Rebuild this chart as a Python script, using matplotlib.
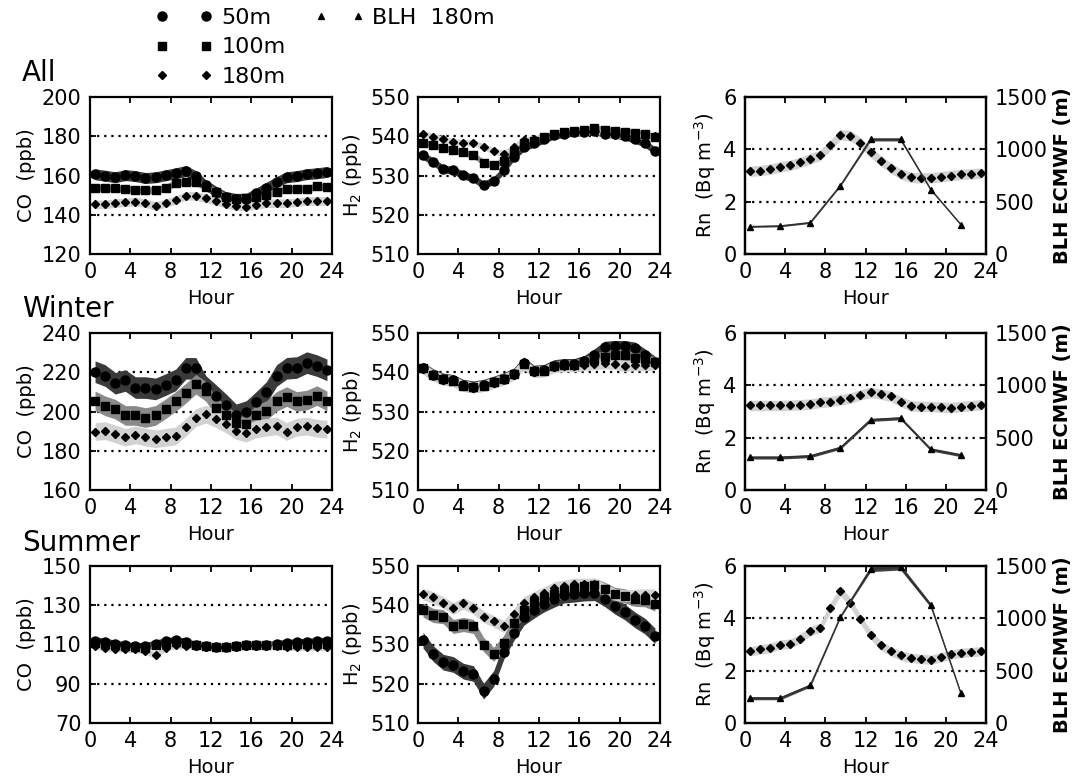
import numpy as np
import matplotlib.pyplot as plt
from matplotlib.lines import Line2D

plt.rcParams['font.family'] = ['DejaVu Sans']

hours = [0.5, 1.5, 2.5, 3.5, 4.5, 5.5, 6.5, 7.5, 8.5, 9.5, 10.5, 11.5,
         12.5, 13.5, 14.5, 15.5, 16.5, 17.5, 18.5, 19.5, 20.5, 21.5, 22.5, 23.5]
blh_hours = [0.5, 3.5, 6.5, 9.5, 12.5, 15.5, 18.5, 21.5]

# ---- CO (ppb) ----
co_all_50 = [160.6, 159.9, 159.1, 160.2, 159.7, 158.7, 159.1, 160.1, 161.1, 162.3, 159.7, 155.0,
             151.8, 148.9, 148.1, 148.2, 150.9, 153.8, 156.7, 159.1, 159.7, 160.7, 161.1, 161.8]
co_all_100 = [153.8, 153.8, 153.5, 153.1, 152.8, 152.5, 152.5, 153.8, 156.3, 156.9, 156.5, 154.3,
              151.8, 149.2, 147.9, 148.4, 148.9, 150.1, 151.8, 153.1, 153.1, 153.3, 154.5, 154.0]
co_all_180 = [145.3, 145.3, 145.9, 146.4, 146.7, 145.9, 144.5, 145.9, 147.5, 149.7, 149.6, 148.4,
              147.0, 145.5, 144.5, 144.2, 145.0, 145.9, 145.9, 145.9, 146.4, 147.0, 147.0, 147.0]
co_win_50 = [220.3, 218.3, 214.4, 215.8, 212.2, 212.2, 211.5, 213.7, 216.1, 222.0, 222.0, 212.7,
             208.1, 203.4, 198.3, 200.0, 204.7, 209.7, 218.3, 222.0, 222.4, 224.9, 223.4, 221.2]
co_win_100 = [205.4, 202.9, 201.2, 198.0, 198.0, 196.9, 198.0, 201.4, 205.1, 209.3, 213.9, 210.2,
              202.0, 198.3, 194.1, 193.7, 198.3, 200.5, 205.1, 207.6, 205.1, 205.8, 208.1, 205.4]
co_win_180 = [189.8, 190.2, 188.6, 186.8, 188.1, 187.0, 186.1, 186.8, 187.6, 191.9, 196.9, 198.6,
              196.3, 193.6, 190.3, 189.0, 191.2, 191.9, 192.7, 189.8, 192.0, 192.5, 191.5, 191.0]
co_sum_50 = [112.0, 111.4, 110.5, 109.5, 109.2, 109.2, 110.5, 111.7, 112.2, 111.4, 109.7, 109.2,
             108.6, 108.8, 109.2, 109.7, 109.5, 109.7, 110.3, 110.8, 111.2, 111.4, 111.7, 112.0]
co_sum_100 = [111.0, 110.5, 109.8, 109.0, 108.5, 108.3, 109.8, 110.8, 111.5, 111.0, 109.5, 109.0,
              108.6, 108.8, 109.2, 109.5, 109.5, 109.6, 109.8, 110.0, 110.2, 110.2, 110.3, 110.5]
co_sum_180 = [109.2, 108.1, 107.8, 107.5, 107.5, 106.6, 104.4, 108.3, 109.5, 109.3, 109.0, 108.8,
              108.6, 108.5, 108.7, 109.0, 109.2, 109.3, 109.3, 108.8, 108.5, 108.5, 108.5, 108.6]

# ---- H2 (ppb) ----
h2_all_50 = [535.1, 533.5, 531.7, 531.3, 530.1, 529.3, 527.6, 528.7, 531.4, 534.8, 537.2, 538.2,
             539.2, 540.3, 540.7, 541.0, 541.1, 541.4, 540.7, 540.5, 540.0, 539.2, 538.2, 536.3]
h2_all_100 = [538.4, 537.7, 537.1, 536.5, 535.9, 535.2, 533.3, 532.7, 533.7, 536.1, 538.2, 538.8,
              539.7, 540.7, 541.1, 541.3, 541.5, 542.0, 541.7, 541.4, 541.1, 540.9, 540.5, 539.9]
h2_all_180 = [540.7, 539.9, 539.3, 538.6, 538.4, 538.4, 537.3, 536.2, 535.6, 537.3, 539.0, 539.4,
              539.9, 540.5, 540.9, 541.0, 541.1, 541.4, 540.9, 540.3, 540.3, 540.0, 539.9, 540.0]
h2_win_50 = [541.1, 539.4, 538.3, 537.9, 536.7, 536.3, 536.7, 537.5, 538.4, 539.6, 542.4, 540.3,
             540.5, 541.7, 542.0, 542.0, 542.8, 544.5, 546.4, 546.6, 546.6, 546.2, 544.5, 542.6]
h2_win_100 = [541.0, 539.3, 538.2, 537.8, 536.6, 536.2, 536.6, 537.4, 538.3, 539.5, 542.2, 540.2,
              540.4, 541.5, 541.8, 541.8, 542.5, 543.5, 544.0, 544.5, 544.5, 543.7, 543.3, 542.5]
h2_win_180 = [540.9, 539.2, 538.1, 537.7, 536.5, 536.1, 536.5, 537.3, 538.2, 539.4, 542.0, 540.0,
              540.2, 541.3, 541.5, 541.5, 541.8, 542.0, 542.3, 542.1, 541.6, 541.8, 541.8, 541.9]
h2_sum_50 = [531.1, 527.7, 525.5, 524.9, 523.2, 522.6, 518.1, 521.3, 528.2, 533.0, 536.9, 538.7,
             540.3, 541.5, 542.6, 542.8, 543.1, 543.2, 541.7, 539.8, 538.3, 536.3, 534.7, 532.2]
h2_sum_100 = [538.8, 537.4, 537.1, 534.6, 535.1, 534.6, 530.0, 527.5, 530.5, 535.6, 538.7, 540.9,
              542.0, 542.8, 543.7, 544.3, 544.8, 545.1, 544.1, 542.8, 542.4, 541.5, 541.4, 540.3]
h2_sum_180 = [542.8, 542.0, 540.7, 539.2, 540.5, 539.2, 537.1, 535.9, 534.6, 537.7, 540.7, 542.0,
              543.2, 544.5, 544.9, 545.4, 545.4, 545.4, 544.1, 542.8, 542.4, 542.6, 542.7, 542.6]

# ---- Rn (Bq m-3) and BLH (m) ----
rn_all = [3.16, 3.19, 3.24, 3.33, 3.39, 3.50, 3.64, 3.77, 4.15, 4.56, 4.52, 4.25,
          3.89, 3.57, 3.29, 3.06, 2.93, 2.91, 2.91, 2.96, 3.00, 3.04, 3.06, 3.09]
rn_win = [3.23, 3.23, 3.23, 3.23, 3.24, 3.26, 3.28, 3.35, 3.38, 3.45, 3.51, 3.64,
          3.73, 3.67, 3.58, 3.38, 3.22, 3.19, 3.19, 3.17, 3.15, 3.19, 3.22, 3.26]
rn_sum = [2.74, 2.81, 2.87, 3.00, 3.03, 3.22, 3.51, 3.64, 4.41, 5.03, 4.60, 3.96,
          3.38, 2.97, 2.74, 2.58, 2.49, 2.45, 2.42, 2.51, 2.62, 2.68, 2.71, 2.74]
blh_all = [262, 268, 300, 654, 1095, 1095, 616, 281]
blh_win = [311, 311, 324, 404, 670, 686, 388, 333]
blh_sum = [237, 237, 359, 1013, 1471, 1487, 1125, 285]
blh_all_err = [8, 8, 8, 8, 15, 15, 8, 8]
blh_win_err = [15, 15, 15, 15, 15, 15, 15, 15]
blh_sum_err = [15, 15, 15, 8, 25, 25, 20, 8]

# band half-widths (50m, 100m, 180m)
co_all_err = [2.8, 1.8, 2.2]
co_win_err = [5.5, 5.0, 4.5]
co_sum_err = [1.8, 1.6, 1.6]
h2_all_err = [1.0, 0.8, 0.8]
h2_win_err = [1.5, 1.4, 1.4]
h2_sum_err = [2.0, 1.8, 1.5]
rn_err = [0.2, 0.2, 0.18]

band_colors = ['#3a3a3a', '#8a8a8a', '#d2d2d2']
markers = ['o', 's', 'D']
msizes = [6.5, 6, 4.5]

W, H = 1078, 784
fig = plt.figure(figsize=(W / 100, H / 100), dpi=100)

col_left = [90, 418, 745]
col_width = [242, 242, 241]
row_top = [97, 333, 566]
ax_h = 157


def make_ax(r, c):
    return fig.add_axes([col_left[c] / W, 1 - (row_top[r] + ax_h) / H,
                         col_width[c] / W, ax_h / H])


def style_ax(ax, yticks, grid):
    ax.set_xlim(0, 24)
    ax.set_xticks([0, 4, 8, 12, 16, 20, 24])
    ax.set_ylim(yticks[0], yticks[-1])
    ax.set_yticks(yticks)
    for g in grid:
        ax.axhline(g, color='k', ls=(0, (1, 2.2)), lw=1.6, zorder=1)
    ax.tick_params(direction='in', length=4, width=1.3, top=True, labelsize=15, pad=6)
    for s in ax.spines.values():
        s.set_linewidth(1.6)
    ax.set_xlabel('Hour', fontsize=14, labelpad=5)


def gas_panel(ax, series, errs, yticks, grid, ylabel):
    for i, (vals, e) in enumerate(zip(series, errs)):
        v = np.array(vals)
        ax.fill_between(hours, v - e, v + e, color=band_colors[i], lw=0, zorder=2 + i)
    for i, vals in enumerate(series):
        ax.plot(hours, vals, ls='none', marker=markers[i], ms=msizes[i], color='k', zorder=6)
    style_ax(ax, yticks, grid)
    ax.set_ylabel(ylabel, fontsize=14, labelpad=4)


def rn_panel(ax, rn, e, blh, blh_e):
    v = np.array(rn)
    ax.fill_between(hours, v - e, v + e, color='#d2d2d2', lw=0, zorder=2)
    ax.plot(hours, rn, ls='none', marker='D', ms=4.5, color='k', zorder=6)
    style_ax(ax, [0, 2, 4, 6], [2, 4])
    ax.set_ylabel('Rn  (Bq m$^{-3}$)', fontsize=14, labelpad=4)
    ax2 = ax.twinx()
    b = np.array(blh)
    be = np.array(blh_e)
    ax2.fill_between(blh_hours, b - be, b + be, color='#404040', lw=0, zorder=2)
    ax2.plot(blh_hours, blh, color='#303030', lw=1.0, marker='^', ms=4.5, mfc='k', mec='k', zorder=5)
    ax2.set_ylim(0, 1500)
    ax2.set_yticks([0, 500, 1000, 1500])
    ax2.tick_params(direction='in', length=4, width=1.3, labelsize=15, pad=6)
    ax2.set_ylabel('BLH ECMWF (m)', fontsize=14, fontweight='bold', labelpad=4)
    for s in ax2.spines.values():
        s.set_linewidth(1.6)


# Row 1: All
gas_panel(make_ax(0, 0), [co_all_50, co_all_100, co_all_180], co_all_err,
          [120, 140, 160, 180, 200], [140, 160, 180], 'CO  (ppb)')
gas_panel(make_ax(0, 1), [h2_all_50, h2_all_100, h2_all_180], h2_all_err,
          [510, 520, 530, 540, 550], [520, 530, 540], 'H$_2$ (ppb)')
rn_panel(make_ax(0, 2), rn_all, rn_err[0], blh_all, blh_all_err)

# Row 2: Winter
gas_panel(make_ax(1, 0), [co_win_50, co_win_100, co_win_180], co_win_err,
          [160, 180, 200, 220, 240], [180, 200, 220], 'CO  (ppb)')
gas_panel(make_ax(1, 1), [h2_win_50, h2_win_100, h2_win_180], h2_win_err,
          [510, 520, 530, 540, 550], [520, 530, 540], 'H$_2$ (ppb)')
rn_panel(make_ax(1, 2), rn_win, rn_err[1], blh_win, blh_win_err)

# Row 3: Summer
gas_panel(make_ax(2, 0), [co_sum_50, co_sum_100, co_sum_180], co_sum_err,
          [70, 90, 110, 130, 150], [90, 110, 130], 'CO  (ppb)')
gas_panel(make_ax(2, 1), [h2_sum_50, h2_sum_100, h2_sum_180], h2_sum_err,
          [510, 520, 530, 540, 550], [520, 530, 540], 'H$_2$ (ppb)')
rn_panel(make_ax(2, 2), rn_sum, rn_err[2], blh_sum, blh_sum_err)

# row titles
fig.text(22 / W, 1 - 73 / H, 'All', fontsize=20, va='center', ha='left')
fig.text(22 / W, 1 - 309 / H, 'Winter', fontsize=20, va='center', ha='left')
fig.text(22 / W, 1 - 543 / H, 'Summer', fontsize=20, va='center', ha='left')

# legend
h = [Line2D([], [], ls='none', marker=m, ms=s, color='k') for m, s in zip(markers, msizes)]
fig.legend(h, ['50m', '100m', '180m'], loc='upper left', bbox_to_anchor=(155 / W, 1 - 8 / H),
           numpoints=2, frameon=False, fontsize=16, handlelength=2.6, handletextpad=0.4,
           labelspacing=0.42, borderpad=0, borderaxespad=0)
hb = [Line2D([], [], ls='none', marker='^', ms=4.5, color='k')]
fig.legend(hb, ['BLH  180m'], loc='upper left', bbox_to_anchor=(314 / W, 1 - 8 / H),
           numpoints=2, frameon=False, fontsize=16, handlelength=2.3, handletextpad=0.3,
           borderpad=0, borderaxespad=0)

fig.savefig('out.png', dpi=100)
